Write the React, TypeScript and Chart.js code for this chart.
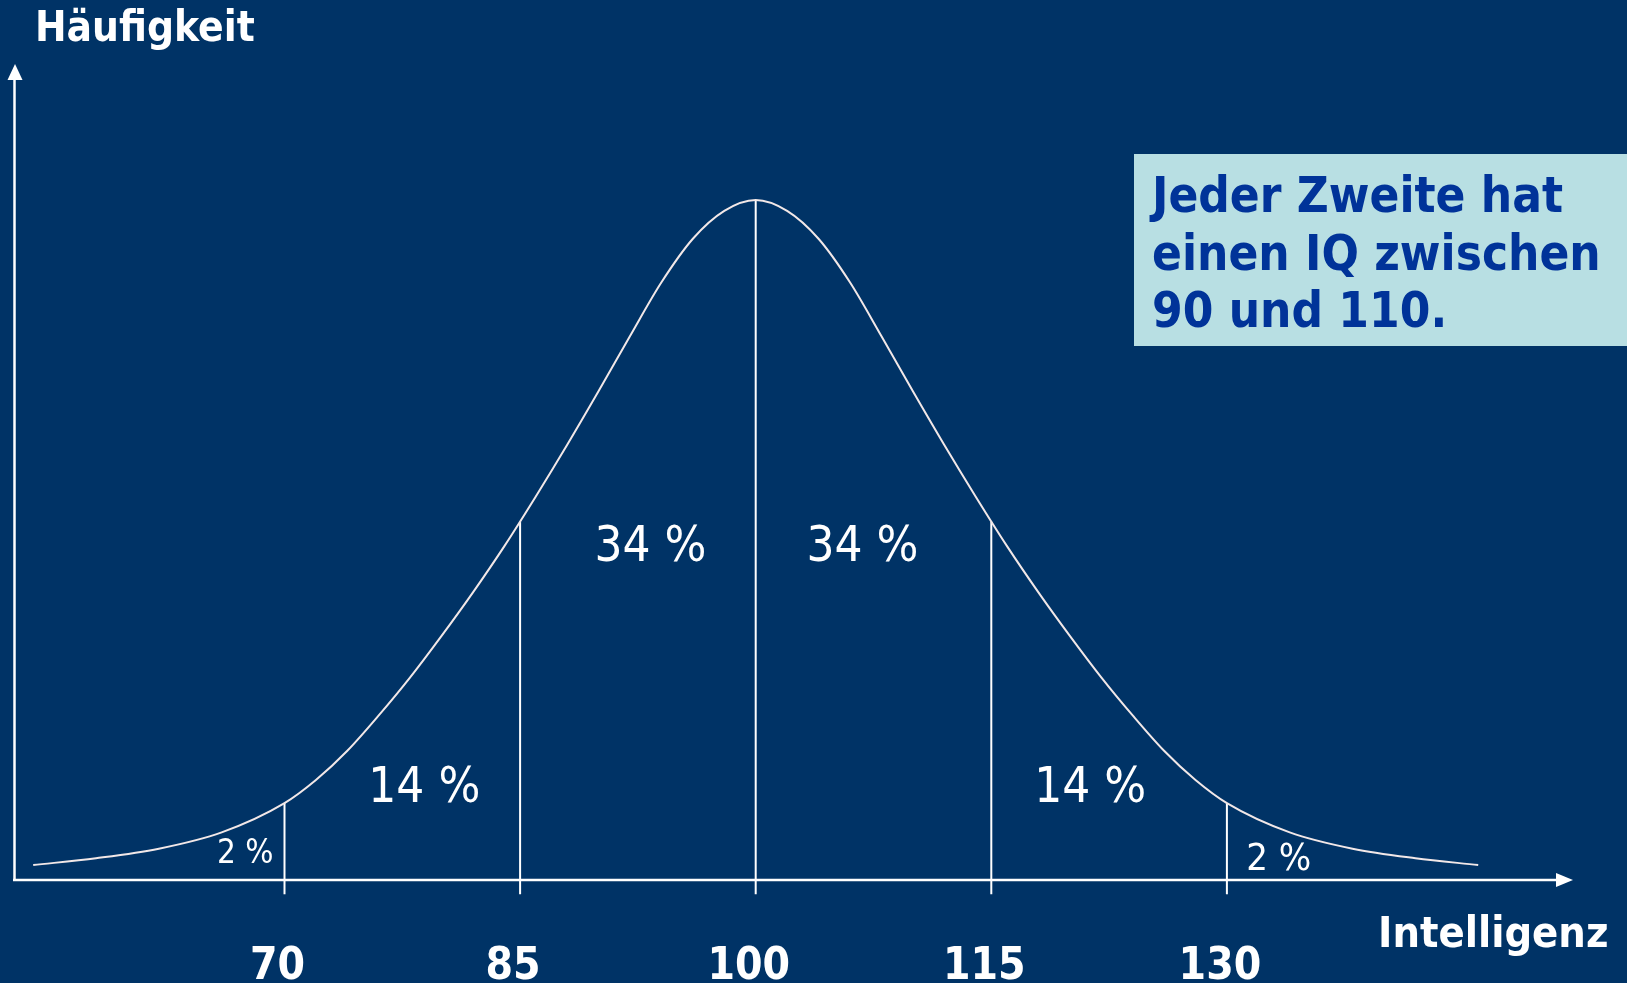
import React, { useEffect, useRef } from "react";
import { Chart, registerables } from "chart.js";

Chart.register(...registerables);

// ---- data ----
const iqTicks = [70, 85, 100, 115, 130];
const markerTops = [11.3, 52.7, 100, 52.7, 11.3];

const curveIQ = [
  54, 58, 62, 66, 70, 72, 74, 76, 78, 80, 82, 84, 86, 88, 90, 92, 94, 96, 98,
  100,
  102, 104, 106, 108, 110, 112, 114, 116, 118, 120, 122, 124, 126, 128, 130,
  134, 138, 142, 146,
];
const curveFreq = [
  2.2, 3.2, 4.6, 7.0, 11.3, 14.7, 19.0, 24.2, 29.8, 35.9, 42.3, 49.1, 56.4,
  64.0, 71.9, 80.0, 87.9, 94.3, 98.4,
  100,
  98.4, 94.3, 87.9, 80.0, 71.9, 64.0, 56.4, 49.1, 42.3, 35.9, 29.8, 24.2,
  19.0, 14.7, 11.3, 7.0, 4.6, 3.2, 2.2,
];

const pctLabels = ["2 %", "14 %", "34 %", "34 %", "14 %", "2 %"];
const pctIQ = [67.5, 78.9, 93.3, 106.8, 121.3, 133.3];
const pctFreq = [2.5, 11.5, 46.9, 46.9, 11.5, 1.5];

const yTitle = "Häufigkeit";
const xTitle = "Intelligenz";
const noteLines = ["Jeder Zweite hat", "einen IQ zwischen", "90 und 110."];

// ---- styles ----
const FONT = "'DejaVu Sans Condensed', 'DejaVu Sans', sans-serif";
const BG = "#003366";
const WHITE = "#ffffff";
const CURVE = "#f2e8e8";
const pctSizes = [33, 49, 49, 49, 49, 38];

const decorPlugin = {
  id: "decor",
  beforeDraw(chart: any) {
    const { ctx, width, height } = chart;
    ctx.save();
    ctx.fillStyle = BG;
    ctx.fillRect(0, 0, width, height);
    ctx.restore();
  },
  afterDraw(chart: any) {
    const { ctx } = chart;
    const xs = chart.scales.x;
    const ys = chart.scales.y;
    const y0 = ys.getPixelForValue(0);
    ctx.save();
    ctx.strokeStyle = WHITE;
    ctx.fillStyle = WHITE;
    ctx.lineWidth = 2.5;
    // x axis
    ctx.beginPath();
    ctx.moveTo(13, y0);
    ctx.lineTo(1558, y0);
    ctx.stroke();
    ctx.beginPath();
    ctx.moveTo(1573, y0);
    ctx.lineTo(1556, y0 - 7);
    ctx.lineTo(1556, y0 + 7);
    ctx.closePath();
    ctx.fill();
    // y axis
    ctx.beginPath();
    ctx.moveTo(14.5, y0 + 1);
    ctx.lineTo(14.5, 78);
    ctx.stroke();
    ctx.beginPath();
    ctx.moveTo(15, 64);
    ctx.lineTo(7.5, 80);
    ctx.lineTo(22.5, 80);
    ctx.closePath();
    ctx.fill();

    // axis titles
    ctx.textBaseline = "alphabetic";
    ctx.textAlign = "left";
    ctx.font = `bold 42px ${FONT}`;
    ctx.fillText(yTitle, 35, 41);
    ctx.font = `bold 43px ${FONT}`;
    ctx.fillText(xTitle, 1378, 947);

    // percentage labels
    ctx.textAlign = "center";
    pctLabels.forEach((t, i) => {
      ctx.font = `${pctSizes[i]}px ${FONT}`;
      ctx.fillText(t, xs.getPixelForValue(pctIQ[i]), ys.getPixelForValue(pctFreq[i]));
    });

    // note box
    ctx.fillStyle = "#b8dfe3";
    ctx.fillRect(1134, 154, 493, 192);
    ctx.fillStyle = "#003399";
    ctx.textAlign = "left";
    ctx.font = `bold 49px ${FONT}`;
    const baselines = [212, 270, 327];
    noteLines.forEach((t, i) => ctx.fillText(t, 1152, baselines[i]));
    ctx.restore();
  },
};

export default function App() {
  const ref = useRef<HTMLCanvasElement | null>(null);

  useEffect(() => {
    document.body.style.margin = "0";
    document.body.style.background = BG;
    const canvas = ref.current;
    if (!canvas) return;

    const markerSets = iqTicks.map((v, i) => ({
      type: "line" as const,
      data: [
        { x: v, y: -2.1 },
        { x: v, y: markerTops[i] },
      ],
      borderColor: WHITE,
      borderWidth: 2,
      pointRadius: 0,
      clip: false,
      tension: 0,
    }));

    const chart = new Chart(canvas, {
      type: "line",
      data: {
        datasets: [
          {
            data: curveIQ.map((x, i) => ({ x, y: curveFreq[i] })),
            borderColor: CURVE,
            borderWidth: 2,
            pointRadius: 0,
            cubicInterpolationMode: "monotone",
            clip: false,
          } as any,
          ...markerSets,
        ],
      },
      options: {
        responsive: false,
        animation: false,
        events: [],
        layout: { padding: { left: 48.9, right: 164.5, top: 200, bottom: 0 } },
        plugins: { legend: { display: false }, tooltip: { enabled: false } },
        scales: {
          x: {
            type: "linear",
            min: 55,
            max: 145,
            grid: { display: false, drawTicks: false },
            border: { display: false },
            afterBuildTicks: (scale: any) => {
              scale.ticks = iqTicks.map((v) => ({ value: v }));
            },
            afterFit: (scale: any) => {
              scale.height = 103;
            },
            ticks: {
              color: WHITE,
              padding: 66,
              labelOffset: -7,
              maxRotation: 0,
              autoSkip: false,
              font: { family: FONT, size: 44, weight: "bold", lineHeight: 1 },
              callback: (v: any) => String(v),
            },
          },
          y: {
            display: false,
            min: 0,
            max: 100,
          },
        },
      },
      plugins: [decorPlugin],
    });
    return () => chart.destroy();
  }, []);

  return (
    <div style={{ position: "absolute", left: 0, top: 0, width: 1627, height: 983, background: BG }}>
      <canvas ref={ref} width={1627} height={983} style={{ display: "block" }} />
    </div>
  );
}
